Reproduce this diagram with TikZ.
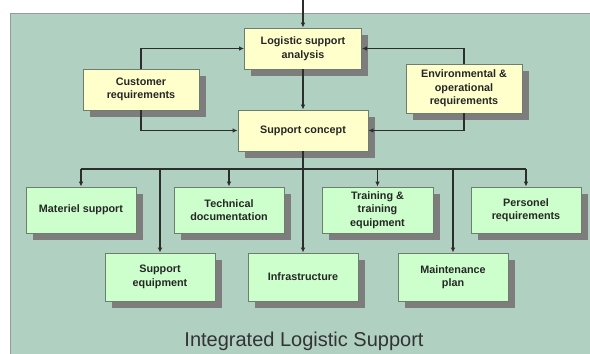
\documentclass[tikz,border=0pt]{standalone}
\usepackage{fontspec}
\setmainfont{Liberation Sans}
\usetikzlibrary{arrows.meta,shadows}
\definecolor{panel}{RGB}{176,208,193}
\definecolor{ybox}{RGB}{255,255,204}
\definecolor{gbox}{RGB}{204,255,204}
\definecolor{boxline}{RGB}{110,125,110}
\definecolor{shad}{RGB}{125,125,125}
\definecolor{linec}{RGB}{45,45,45}
\tikzset{
  box/.style={draw=boxline, line width=0.8pt, inner sep=0pt, align=center,
    font=\fontsize{10.8}{13.5}\selectfont\bfseries, text=black!85,
    drop shadow={shadow xshift=6.5pt, shadow yshift=-6.5pt, fill=shad, opacity=1}},
  ybx/.style={box, fill=ybox},
  gbx/.style={box, fill=gbox},
  arr/.style={draw=linec, line width=1.1pt, -{Latex[length=5pt,width=4.5pt]}},
  ln/.style={draw=linec, line width=1.1pt}
}
\begin{document}
\begin{tikzpicture}[x=1pt,y=-1pt]
\useasboundingbox (0,0) rectangle (590,354);
\fill[white] (0,0) rectangle (590,354);
\fill[panel] (10,13) rectangle (590,354);
\draw[gray!80, line width=0.8pt] (10,354) -- (10,13) -- (590,13);

\node[ybx, minimum width=117pt, minimum height=41pt] (lsa) at (303,48.5) {Logistic support\\analysis};
\node[ybx, minimum width=116pt, minimum height=41pt] (cust) at (141,89.5) {Customer\\requirements};
\node[ybx, minimum width=130pt, minimum height=41pt] (sc) at (303,130.5) {Support concept};
\node[ybx, minimum width=116pt, minimum height=49pt] (env) at (464,88.5) {Environmental \&\\operational\\requirements};

\node[gbx, minimum width=110pt, minimum height=46pt] (mat) at (81,210) {Materiel support};
\node[gbx, minimum width=110pt, minimum height=46pt] (tech) at (229,210) {Technical\\documentation};
\node[gbx, minimum width=111pt, minimum height=46pt] (train) at (377.5,210) {Training \&\\training\\equipment};
\node[gbx, minimum width=110pt, minimum height=46pt] (pers) at (526,210) {Personel\\requirements};
\node[gbx, minimum width=110pt, minimum height=48pt] (supeq) at (160,277) {Support\\equipment};
\node[gbx, minimum width=110pt, minimum height=48pt] (infra) at (303,277) {Infrastructure};
\node[gbx, minimum width=110pt, minimum height=48pt] (maint) at (453,277) {Maintenance\\plan};

\node[anchor=base, font=\fontsize{20}{24}\selectfont, text=black!80] (title) at (304,346.5) {Integrated Logistic Support};

\coordinate (top) at (303,0);
\coordinate (busL) at (81,169);
\coordinate (busR) at (526,169);

\draw[arr] (top) -- (lsa.north);
\draw[arr] (lsa.south) -- (sc.north);
\draw[arr] (cust.north) |- (lsa.west);
\draw[arr] (cust.south) |- (sc.west);
\draw[arr] (env.north) |- (lsa.east);
\draw[arr] (env.south) |- (sc.east);

\draw[ln] (busL) -- (busR);
\draw[arr] (sc.south) -- (infra.north);
\draw[arr] (mat.north |- busL) -- (mat.north);
\draw[arr] (tech.north |- busL) -- (tech.north);
\draw[arr] (train.north |- busL) -- (train.north);
\draw[arr] (pers.north |- busL) -- (pers.north);
\draw[arr] (supeq.north |- busL) -- (supeq.north);
\draw[arr] (maint.north |- busL) -- (maint.north);
\end{tikzpicture}
\end{document}
